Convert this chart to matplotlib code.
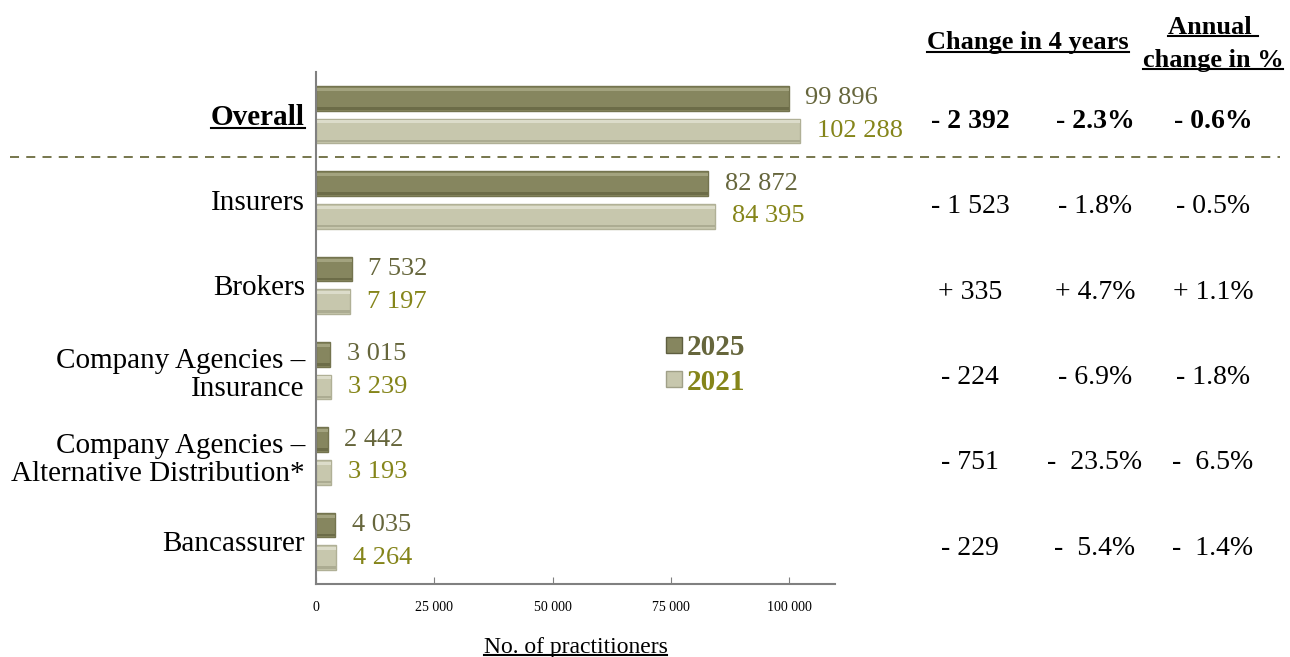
import matplotlib
matplotlib.use('Agg')
import matplotlib.pyplot as plt
from matplotlib.lines import Line2D
import matplotlib.transforms as mtrans

plt.rcParams['font.family'] = ['Liberation Serif', 'DejaVu Serif']

# data
categories = ['Overall', 'Insurers', 'Brokers', 'Company Agencies –\nInsurance',
              'Company Agencies –\nAlternative Distribution*', 'Bancassurer']
v2025 = [99896, 82872, 7532, 3015, 2442, 4035]
v2021 = [102288, 84395, 7197, 3239, 3193, 4264]
chg_abs = ['- 2 392', '- 1 523', '+ 335', '- 224', '- 751', '- 229']
chg_pct = ['- 2.3%', '- 1.8%', '+ 4.7%', '- 6.9%', '-  23.5%', '-  5.4%']
chg_ann = ['- 0.6%', '- 0.5%', '+ 1.1%', '- 1.8%', '-  6.5%', '-  1.4%']
ticks = [0, 25000, 50000, 75000, 100000]

c25 = '#86865f'
c21 = '#c7c7ad'
t25 = '#66663c'
t21 = '#85851a'

W, H = 1290, 657
fig = plt.figure(figsize=(12.9, 6.57), dpi=100)
ax = fig.add_axes([316 / W, 1 - 584 / H, (835 - 316) / W, (584 - 72) / H])

ys = list(range(len(categories)))
bh = 0.29
off = 0.19
ax.barh([y - off for y in ys], v2025, height=bh, color=c25, edgecolor='#74744f', linewidth=1.0)
ax.barh([y + off for y in ys], v2021, height=bh, color=c21, edgecolor='#b0b096', linewidth=1.0)
# bevel: light band on top, darker band at bottom
ax.barh([y - off - bh * 0.36 for y in ys], v2025, height=bh * 0.12, color='#a3a37f', linewidth=0)
ax.barh([y + off - bh * 0.36 for y in ys], v2021, height=bh * 0.12, color='#dcdcca', linewidth=0)
ax.barh([y - off + bh * 0.40 for y in ys], v2025, height=bh * 0.1, color='#6c6c48', linewidth=0)
ax.barh([y + off + bh * 0.40 for y in ys], v2021, height=bh * 0.1, color='#acac92', linewidth=0)

for y, a, b in zip(ys, v2025, v2021):
    ax.annotate(f'{a:,}'.replace(',', ' '), (a, y - off), xytext=(12, 0), textcoords='offset points',
                va='center', ha='left', fontsize=19, color=t25)
    ax.annotate(f'{b:,}'.replace(',', ' '), (b, y + off), xytext=(12, 0), textcoords='offset points',
                va='center', ha='left', fontsize=19, color=t21)

ax.set_xlim(0, 109700)
ax.set_ylim(5.5, -0.5)
ax.set_xticks(ticks)
ax.set_xticklabels([f'{t:,}'.replace(',', ' ') for t in ticks], fontsize=10)
ax.tick_params(axis='x', direction='in', length=5, color='#7f7f7f', pad=12)
ax.set_yticks(ys)
ax.set_yticklabels(categories, fontsize=21, linespacing=1.1)
ax.tick_params(axis='y', length=0, pad=8)
ax.get_yticklabels()[0].set_fontweight('bold')
for s in ['top', 'right']:
    ax.spines[s].set_visible(False)
for s in ['left', 'bottom']:
    ax.spines[s].set_color('#808080')
    ax.spines[s].set_linewidth(1.5)
ax.set_xlabel('No. of practitioners', fontsize=17, labelpad=17)

# dashed separator
fig.add_artist(Line2D([10 / W, 1280 / W], [1 - 157 / H, 1 - 157 / H], transform=fig.transFigure,
                      color='#6b6b3e', linestyle=(0, (5, 4)), linewidth=1.3))

# table on the right
tr = mtrans.blended_transform_factory(fig.transFigure, ax.transData)
for i in ys:
    w = 'bold' if i == 0 else 'normal'
    fig.text(970 / W, i + 0.08, chg_abs[i], transform=tr, ha='center', va='center', fontsize=20, fontweight=w)
    fig.text(1095 / W, i + 0.08, chg_pct[i], transform=tr, ha='center', va='center', fontsize=20, fontweight=w)
    fig.text(1213 / W, i + 0.08, chg_ann[i], transform=tr, ha='center', va='center', fontsize=20, fontweight=w)

h1 = fig.text(1028 / W, 1 - 43 / H, 'Change in 4 years', ha='center', va='center', fontsize=19, fontweight='bold')
h2 = fig.text(1213 / W, 1 - 27 / H, 'Annual ', ha='center', va='center', fontsize=19, fontweight='bold')
h3 = fig.text(1213 / W, 1 - 60 / H, 'change in %', ha='center', va='center', fontsize=19, fontweight='bold')

# legend
handles = [Line2D([], [], marker='s', linestyle='', markersize=11, markerfacecolor=c25, markeredgecolor='#5e5e40'),
           Line2D([], [], marker='s', linestyle='', markersize=11, markerfacecolor=c21, markeredgecolor='#a0a088')]
leg = fig.legend(handles, ['2025', '2021'], loc='center left', bbox_to_anchor=(636 / W, 1 - 365 / H),
                 frameon=False, handlelength=0.8, handletextpad=0.05, labelspacing=0.25,
                 prop={'size': 21, 'weight': 'bold'})
leg.get_texts()[0].set_color(t25)
leg.get_texts()[1].set_color(t21)

# underlines
fig.canvas.draw()
rend = fig.canvas.get_renderer()
inv = fig.transFigure.inverted()


def underline(t):
    bb = t.get_window_extent(rend).transformed(inv)
    y = bb.y0 + 3 / H
    fig.add_artist(Line2D([bb.x0, bb.x1], [y, y], transform=fig.transFigure, color='black', linewidth=1.5))


for t in [h1, h2, h3, ax.get_yticklabels()[0], ax.xaxis.label]:
    underline(t)

fig.savefig('out.png', dpi=100)
